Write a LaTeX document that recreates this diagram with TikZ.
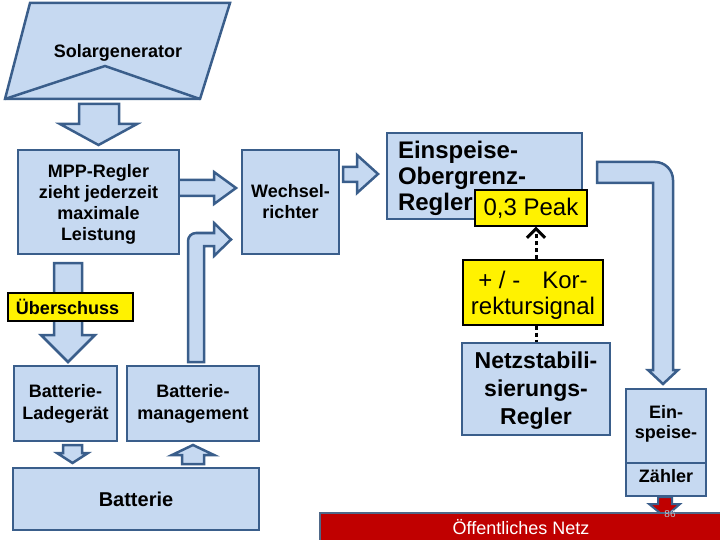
\documentclass[tikz,border=0pt]{standalone}
\usepackage{fontspec}
\setmainfont{Liberation Sans}
\usetikzlibrary{arrows.meta,calc}
\definecolor{bfill}{RGB}{198,217,241}
\definecolor{bedge}{RGB}{58,94,139}
\definecolor{netzred}{RGB}{192,0,0}
\definecolor{pagegray}{RGB}{185,190,200}
\begin{document}
\begin{tikzpicture}[x=1pt,y=-1pt,
  box/.style={draw=bedge, fill=bfill, line width=2.5pt, inner sep=0pt, align=center},
  blk/.style={draw=bedge, fill=bfill, line width=2.5pt, line join=miter},
  ylw/.style={draw=black, fill=yellow, line width=1.3pt, inner sep=0pt},
  dots/.style={line width=3pt, dash pattern=on 4pt off 3pt},
  fb/.style 2 args={font=\bfseries\fontsize{#1}{#2}\selectfont},
  txt/.style={inner sep=0pt},
]
\useasboundingbox (0,0) rectangle (720,540);

% ---- block arrows (drawn first, boxes on top) ----
% Solargenerator -> MPP
\draw[blk] (79,104) -- (119,104) -- (119,124) -- (137,124) -- (98.5,145) -- (60,124) -- (79,124) -- cycle;
% MPP -> Wechselrichter
\draw[blk] (176,180) -- (214,180) -- (214,172) -- (236,188) -- (214,204) -- (214,196) -- (176,196) -- cycle;
% Batteriemanagement -> Wechselrichter (bent)
\draw[blk] (188,362) -- (188,241) .. controls (188,236.6) and (191.6,233) .. (196,233)
  -- (214,233) -- (214,223) -- (231,239.5) -- (214,256) -- (214,246) -- (204,246) -- (204,362) -- cycle;
% Wechselrichter -> Einspeise-Obergrenz-Regler
\draw[blk] (343,167) -- (357,167) -- (357,155) -- (378,174) -- (357,193) -- (357,182) -- (343,182) -- cycle;
% Einspeise-Obergrenz-Regler -> Zaehler (bent)
\draw[blk] (597,162) -- (655,162) .. controls (665,162) and (673,170) .. (673,180)
  -- (673,370) -- (678,370) -- (663,384) -- (648,370) -- (653,370) -- (653,183) -- (597,183) -- cycle;
% MPP -> Ladegeraet (Ueberschuss)
\draw[blk] (54,263) -- (82,263) -- (82,335) -- (95,335) -- (68,362) -- (41,335) -- (54,335) -- cycle;
% Ladegeraet -> Batterie
\draw[blk] (63,445) -- (82,445) -- (82,453) -- (88,453) -- (72.5,463) -- (57,453) -- (63,453) -- cycle;
% Batterie -> Batteriemanagement
\draw[blk] (182,464) -- (182,455) -- (172,455) -- (193,445) -- (214,455) -- (204,455) -- (204,464) -- cycle;
% Zaehler -> Netz (red)
\draw[draw=bedge, fill=netzred, line width=2pt, line join=miter]
  (658,497) -- (672,497) -- (672,504) -- (680,504) -- (665,517) -- (649,504) -- (658,504) -- cycle;

% ---- Solargenerator ----
\draw[blk] (30,3) -- (230,3) -- (200,99) -- (5,99) -- cycle;
\draw[draw=bedge, line width=2.5pt] (5,99) -- (105,66) -- (200,99);
\node[fb={18}{21}] (solar) at (118,53) {Solargenerator};

% ---- boxes ----
\node[box, minimum width=161pt, minimum height=104pt] (mpp) at (98.5,202) {};
\node[txt, fb={18}{21}, align=center] (mpptxt) at (98.5,204)
  {MPP-Regler\\zieht jederzeit\\maximale\\Leistung};
\node[box, fb={18}{21}, minimum width=97pt, minimum height=104pt] (wr) at (290.5,202)
  {Wechsel-\\richter};
\node[box, minimum width=195pt, minimum height=86pt] (eog) at (484.5,176) {};
\node[txt, fb={24}{26}, text width=173pt, align=left] (eogtxt) at (484.5,178.5)
  {Einspeise-\\Obergrenz-\\Regler};
\node[ylw, font=\fontsize{24}{26}\selectfont, minimum width=112pt, minimum height=36pt] (peak) at (531,208)
  {0,3 Peak};
\node[ylw, minimum width=140pt, minimum height=65pt] (korr) at (533,292.5) {};
\node[txt, font=\fontsize{24}{26}\selectfont, align=center] (korrtxt) at (533,295)
  {+ / -\hspace{22pt}Kor-\\rektursignal};
\node[box, minimum width=148pt, minimum height=92pt] (netz) at (536,389) {};
\node[txt, fb={23}{28}, align=center] (netztxt) at (536,391)
  {Netzstabili-\\sierungs-\\Regler};
\node[box, minimum width=80pt, minimum height=107pt] (zaehler) at (666,442.5) {};
\draw[draw=bedge, line width=2.5pt] (zaehler.west |- 0,463) -- (zaehler.east |- 0,463);
\node[fb={18}{20}, align=center] (einsp) at (666,424) {Ein-\\speise-};
\node[fb={18}{20}] (zaehltxt) at (666,476) {Zähler};

\node[ylw, fb={18}{20}, text width=109pt, inner xsep=8pt, minimum height=28pt, align=left] (ueber) at (70.5,307)
  {Überschuss};
\node[box, fb={18}{22}, minimum width=103pt, minimum height=75pt] (lade) at (65.5,403.5)
  {Batterie-\\Ladegerät};
\node[box, fb={18}{22}, minimum width=132pt, minimum height=75pt] (bm) at (193,403.5)
  {Batterie-\\management};
\node[box, fb={20}{22}, minimum width=246pt, minimum height=62pt] (batt) at (136,499)
  {Batterie};

% ---- dotted connectors ----
\draw[dots, -{Straight Barb[length=9pt,width=18pt,line width=3pt]}] (netz.north |- korr.north) -- (netz.north |- peak.south);
\draw[dots] (netz.north |- korr.south) -- (netz.north);

% ---- public grid ----
\node[draw=bedge!70!gray, fill=netzred, line width=1.5pt, minimum width=402pt, minimum height=29pt,
  inner sep=0pt, text=white, font=\fontsize{18}{20}\selectfont] (oeff) at (521,527.5) {Öffentliches Netz};
\node[text=pagegray, font=\fontsize{10}{11}\selectfont, inner sep=0pt] (pnum) at (670,514) {86};
\end{tikzpicture}
\end{document}
